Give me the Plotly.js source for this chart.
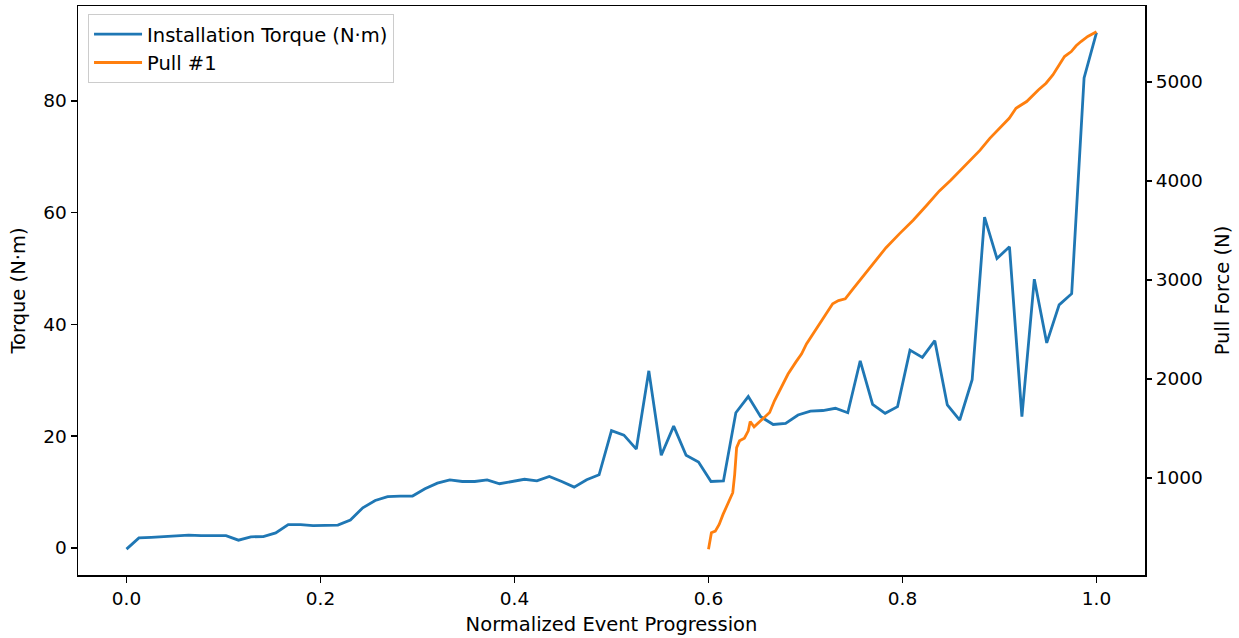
<!DOCTYPE html>
<html>
<head>
<meta charset="utf-8">
<script src="https://cdn.plot.ly/plotly-3.0.1.min.js"></script>
<style>html,body{margin:0;padding:0;background:#fff;}#chart{width:1239px;height:638px;}</style>
</head>
<body>
<div id="chart"></div>
<script>
// Installation torque, sampled along normalized event progression
const torqueX = [0, .0128, .0256, .0385, .0513, .0641, .0769, .0897, .1026, .1154,
  .1282, .141, .1538, .1667, .1795, .1923, .2051, .2179, .2308, .2436,
  .2564, .2692, .2821, .2949, .3077, .3205, .3333, .3462, .359, .3718,
  .3846, .3974, .4103, .4231, .4359, .4487, .4615, .4744, .4872, .5,
  .5128, .5256, .5385, .5513, .5641, .5769, .5897, .6026, .6154, .6282,
  .641, .6538, .6667, .6795, .6923, .7051, .7179, .7308, .7436, .7564,
  .7692, .7821, .7949, .8077, .8205, .8333, .8462, .859, .8718, .8846,
  .8974, .9103, .9231, .9359, .9487, .9615, .9744, .9872, 1];
const torqueNm = [-0.2, 1.8, 1.9, 2.0, 2.1, 2.3, 2.2, 2.2, 2.2, 1.4,
  2.0, 2.05, 2.7, 4.2, 4.2, 4.0, 4.05, 4.1, 5.0, 7.2,
  8.5, 9.2, 9.3, 9.3, 10.6, 11.6, 12.2, 11.9, 11.9, 12.2,
  11.5, 11.9, 12.3, 12.0, 12.8, 11.9, 10.9, 12.2, 13.1, 21.0,
  20.2, 17.7, 31.7, 16.6, 21.8, 16.6, 15.4, 11.9, 12.0, 24.2,
  27.1, 23.5, 22.1, 22.3, 23.8, 24.5, 24.6, 25.0, 24.2, 33.5,
  25.7, 24.1, 25.3, 35.4, 34.1, 37.1, 25.6, 22.9, 30.1, 59.2,
  51.8, 53.9, 23.5, 48.1, 36.7, 43.5, 45.5, 84.1, 92.2];

// Pull #1 force
const pullX = [0.600, 0.603, 0.607, 0.611, 0.615, 0.620, 0.625, 0.627, 0.629, 0.632,
  0.637, 0.641, 0.643, 0.647, 0.652, 0.658, 0.663, 0.668, 0.674, 0.682,
  0.690, 0.696, 0.701, 0.710, 0.718, 0.728, 0.734, 0.741, 0.749, 0.759,
  0.770, 0.783, 0.797, 0.811, 0.825, 0.838, 0.850, 0.865, 0.880, 0.890,
  0.900, 0.910, 0.917, 0.928, 0.940, 0.948, 0.955, 0.962, 0.967, 0.974,
  0.979, 0.984, 0.991, 1.000];
const pullN = [281, 446, 463, 531, 632, 750, 851, 1037, 1307, 1375,
  1402, 1476, 1570, 1516, 1560, 1611, 1661, 1780, 1900, 2050,
  2170, 2253, 2354, 2489, 2607, 2759, 2792, 2810, 2911, 3035,
  3164, 3326, 3468, 3603, 3754, 3899, 4010, 4160, 4311, 4430,
  4531, 4633, 4734, 4802, 4919, 4987, 5071, 5172, 5256, 5307,
  5365, 5408, 5459, 5506];

const xTicks = [0.0, 0.2, 0.4, 0.6, 0.8, 1.0];
const xTickText = ['0.0', '0.2', '0.4', '0.6', '0.8', '1.0'];
const yTicks = [0, 20, 40, 60, 80];
const y2Ticks = [1000, 2000, 3000, 4000, 5000];

const FONT = 'DejaVu Sans, sans-serif';
const FS = 18.5;
const FT = 19.5;

const traces = [
  {x: torqueX, y: torqueNm, type: 'scatter', mode: 'lines', name: 'Installation Torque (N·m)',
   line: {color: '#1f77b4', width: 2.8}, yaxis: 'y', legendgroup: 'a'},
  {x: pullX, y: pullN, type: 'scatter', mode: 'lines', name: 'Pull #1',
   line: {color: '#ff7f0e', width: 2.8}, yaxis: 'y2', legendgroup: 'b'}
];

const axisCommon = {
  showgrid: false, zeroline: false, ticks: 'outside', ticklen: 6, tickwidth: 1.5,
  tickcolor: '#000', tickfont: {family: FONT, size: FS, color: '#000'}
};

const layout = {
  width: 1239, height: 638,
  margin: {l: 78, r: 94, t: 6, b: 63},
  paper_bgcolor: '#fff', plot_bgcolor: '#fff',
  font: {family: FONT, size: FS, color: '#000'},
  showlegend: true,
  legend: {x: 0.0094, y: 0.986, xanchor: 'left', yanchor: 'top',
    bgcolor: 'rgba(255,255,255,0.8)', bordercolor: '#cccccc', borderwidth: 1,
    font: {family: FONT, size: FT, color: '#000'}, itemwidth: 48,
    traceorder: 'grouped', tracegroupgap: 0},
  xaxis: Object.assign({}, axisCommon, {
    range: [-0.05, 1.05], tickvals: xTicks, ticktext: xTickText,
    showline: true, mirror: true, linecolor: '#000', linewidth: 1.5,
    title: {text: 'Normalized Event Progression', font: {family: FONT, size: FT, color: '#000'}, standoff: 9}
  }),
  yaxis: Object.assign({}, axisCommon, {
    range: [-4.83, 96.98], tickvals: yTicks,
    showline: true, mirror: true, linecolor: '#000', linewidth: 1.5,
    title: {text: 'Torque (N·m)', font: {family: FONT, size: FT, color: '#000'}, standoff: 12}
  }),
  yaxis2: Object.assign({}, axisCommon, {
    range: [20, 5767], tickvals: y2Ticks, overlaying: 'y', side: 'right',
    showline: false,
    title: {text: 'Pull Force (N)', font: {family: FONT, size: FT, color: '#000'}, standoff: 13}
  })
};

Plotly.newPlot('chart', traces, layout, {displayModeBar: false, staticPlot: true});
</script>
</body>
</html>
